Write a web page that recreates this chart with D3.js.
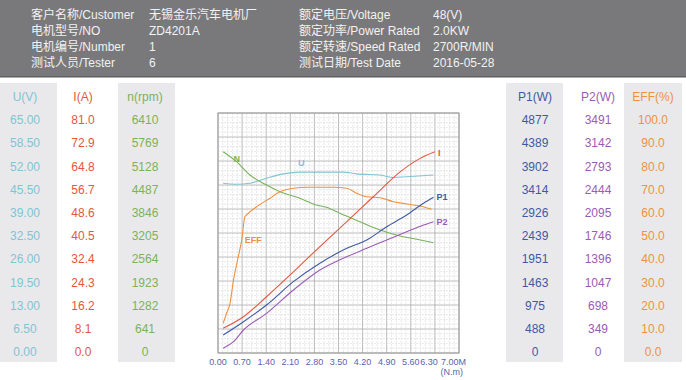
<!DOCTYPE html>
<html>
<head>
<meta charset="utf-8">
<script src="https://cdn.jsdelivr.net/npm/d3@7"></script>
<style>
  body { margin: 0; background: #fff; }
  svg { display: block; font-family: "Liberation Sans", "Noto Sans CJK SC", sans-serif; }
</style>
</head>
<body>
<svg id="chart" width="686" height="380"></svg>
<script>
// header info
var infoLeft = [
  ['客户名称/Customer', '无锡金乐汽车电机厂'],
  ['电机型号/NO', 'ZD4201A'],
  ['电机编号/Number', '1'],
  ['测试人员/Tester', '6']
];
var infoRight = [
  ['额定电压/Voltage', '48(V)'],
  ['额定功率/Power Rated', '2.0KW'],
  ['额定转速/Speed Rated', '2700R/MIN'],
  ['测试日期/Test Date', '2016-05-28']
];

// scale tables
var uTicks = ['0.00', '6.50', '13.00', '19.50', '26.00', '32.50', '39.00', '45.50', '52.00', '58.50', '65.00'];
var iTicks = ['0.0', '8.1', '16.2', '24.3', '32.4', '40.5', '48.6', '56.7', '64.8', '72.9', '81.0'];
var nTicks = ['0', '641', '1282', '1923', '2564', '3205', '3846', '4487', '5128', '5769', '6410'];
var p1Ticks = ['0', '488', '975', '1463', '1951', '2439', '2926', '3414', '3902', '4389', '4877'];
var p2Ticks = ['0', '349', '698', '1047', '1396', '1746', '2095', '2444', '2793', '3142', '3491'];
var effTicks = ['0.0', '10.0', '20.0', '30.0', '40.0', '50.0', '60.0', '70.0', '80.0', '90.0', '100.0'];
var torqueTicks = ['0.00', '0.70', '1.40', '2.10', '2.80', '3.50', '4.20', '4.90', '5.60', '6.30', '7.00M'];

// curves: [torque N.m, value]
var curveI = [[0.15, 8.3], [0.74, 12.3], [1.41, 19.3], [2.19, 28.0], [2.96, 36.8], [3.74, 45.5], [4.51, 54.2], [5.29, 62.9], [5.87, 67.6], [6.30, 69.9]];
var curveP1 = [[0.15, 357], [0.74, 637], [1.41, 988], [2.19, 1478], [2.96, 1865], [3.74, 2180], [4.32, 2354], [4.90, 2634], [5.48, 2880], [5.97, 3126], [6.26, 3252]];
var curveP2 = [[0.15, 56], [0.45, 155], [0.74, 331], [1.41, 582], [2.19, 933], [2.96, 1234], [3.74, 1434], [4.32, 1560], [4.90, 1685], [5.48, 1810], [5.97, 1911], [6.26, 1961]];
var curveEff = [[0.15, 12.4], [0.25, 16.7], [0.35, 21.0], [0.45, 31.0], [0.59, 41.1], [0.69, 48.3], [0.78, 58.3], [0.83, 59.1], [1.12, 62.6], [1.51, 66.3], [1.80, 69.1], [2.19, 70.6], [2.58, 71.0], [3.35, 71.0], [3.74, 70.6], [4.03, 68.4], [4.32, 66.9], [4.71, 66.5], [5.09, 64.8], [5.48, 63.8], [5.87, 62.9], [6.21, 61.5]];
var curveN = [[0.15, 5534], [0.54, 5258], [0.93, 4890], [1.41, 4614], [1.80, 4429], [2.38, 4247], [2.86, 4061], [3.15, 3998], [3.54, 3832], [4.12, 3600], [4.71, 3371], [5.29, 3205], [5.77, 3114], [6.26, 3020]];
var curveU = [[0.15, 47.3], [0.54, 47.0], [0.93, 47.3], [1.41, 48.7], [1.89, 49.9], [2.38, 50.4], [3.64, 50.4], [4.03, 49.9], [4.71, 49.6], [5.09, 48.9], [5.48, 49.1], [6.26, 49.6]];

var colors = {
  u: '#80c4d6', i: '#e4573d', n: '#79b35a',
  p1: '#3f59a6', p2: '#9a5cb4', eff: '#ef9140', axis: '#5b63ad'
};

var svg = d3.select('#chart');

// header band
svg.append('rect').attr('x', 0).attr('y', 0).attr('width', 686).attr('height', 77).attr('fill', '#79797b');
svg.append('rect').attr('x', 0).attr('y', 76).attr('width', 686).attr('height', 1.5).attr('fill', '#606062');

var rowY = d3.scalePoint().domain(d3.range(4)).range([15, 63]);
function infoBlock(rows, x1, x2) {
  var g = svg.append('g').attr('fill', '#f2f2f2').style('font-size', '12px');
  rows.forEach(function (r, k) {
    g.append('text').attr('x', x1).attr('y', rowY(k)).attr('dy', '0.35em').text(r[0]);
    g.append('text').attr('x', x2).attr('y', rowY(k)).attr('dy', '0.35em').text(r[1]);
  });
}
infoBlock(infoLeft, 31, 149);
infoBlock(infoRight, 299, 433);

// shared vertical scale for tables and curves
var yNorm = d3.scaleLinear().domain([0, 1]).range([352, 120]);

var columns = [
  { title: 'U(V)', ticks: uTicks, color: colors.u, x: 25, shade: [0, 57] },
  { title: 'I(A)', ticks: iTicks, color: colors.i, x: 83 },
  { title: 'n(rpm)', ticks: nTicks, color: colors.n, x: 145, shade: [118, 175] },
  { title: 'P1(W)', ticks: p1Ticks, color: colors.p1, x: 535, shade: [506, 563] },
  { title: 'P2(W)', ticks: p2Ticks, color: colors.p2, x: 598 },
  { title: 'EFF(%)', ticks: effTicks, color: colors.eff, x: 653, shade: [624, 682] }
];

columns.forEach(function (c) {
  var g = svg.append('g').style('font-size', '12px').attr('fill', c.color).attr('text-anchor', 'middle');
  if (c.shade) {
    g.append('rect').attr('x', c.shade[0]).attr('y', 83)
      .attr('width', c.shade[1] - c.shade[0]).attr('height', 279).attr('fill', '#e9e9eb');
  }
  g.append('text').attr('x', c.x).attr('y', 97).attr('dy', '0.35em').text(c.title);
  g.selectAll('text.v').data(c.ticks).enter().append('text')
    .attr('class', 'v')
    .attr('x', c.x)
    .attr('y', function (d, k) { return yNorm(k / (c.ticks.length - 1)); })
    .attr('dy', '0.35em')
    .text(function (d) { return d; });
});

// plot area
var plot = { left: 218, right: 459, top: 113, bottom: 353 };
var x = d3.scaleLinear().domain([0, 7]).range([plot.left, plot.right]);
var gy = d3.scaleLinear().domain([0, 50]).range([plot.bottom, plot.top]);

var grid = svg.append('g');
grid.append('rect').attr('x', plot.left).attr('y', plot.top)
  .attr('width', plot.right - plot.left).attr('height', plot.bottom - plot.top).attr('fill', '#fff');
d3.range(0, 51).forEach(function (k) {
  var major = k % 5 === 0;
  var gx = x(k * 0.14);
  grid.append('line').attr('x1', gx).attr('x2', gx).attr('y1', plot.top).attr('y2', plot.bottom)
    .attr('stroke', major ? '#ababab' : '#d9d9d9').attr('stroke-width', major ? 0.8 : 0.6)
    .attr('stroke-dasharray', major ? null : '2,1');
  grid.append('line').attr('y1', gy(k)).attr('y2', gy(k)).attr('x1', plot.left).attr('x2', plot.right)
    .attr('stroke', major ? '#ababab' : '#d9d9d9').attr('stroke-width', major ? 0.8 : 0.6)
    .attr('stroke-dasharray', major ? null : '2,1');
});
grid.append('rect').attr('x', plot.left).attr('y', plot.top)
  .attr('width', plot.right - plot.left).attr('height', plot.bottom - plot.top)
  .attr('fill', 'none').attr('stroke', '#9a9a9a').attr('stroke-width', 1);

// x axis labels (last two nudged apart so they do not collide)
var last = torqueTicks.length - 1;
var xt = svg.append('g').attr('fill', colors.axis).style('font-size', '9px').attr('text-anchor', 'middle');
xt.selectAll('text').data(torqueTicks).enter().append('text')
  .attr('x', function (d, k) { return k === last ? x(7) + 7 : x(k * 0.7) - (k === last - 1 ? 6 : 0); })
  .attr('text-anchor', function (d, k) { return k === last ? 'end' : 'middle'; })
  .attr('y', 362).attr('dy', '0.35em')
  .text(function (d) { return d; });
xt.append('text').attr('x', x(7) + 4).attr('text-anchor', 'end').attr('y', 372).attr('dy', '0.35em').text('(N.m)');

// curves
var series = [
  { data: curveU, max: 65, color: colors.u, label: 'U', at: 5, dx: -2, dy: -9 },
  { data: curveN, max: 6410, color: colors.n, label: 'N', at: 1, dx: -3, dy: -3 },
  { data: curveEff, max: 100, color: colors.eff, label: 'EFF', at: 5, dx: 3, dy: 0 },
  { data: curveP2, max: 3491, color: colors.p2, label: 'P2', at: 11, dx: 3, dy: 0 },
  { data: curveP1, max: 4877, color: colors.p1, label: 'P1', at: 10, dx: 3, dy: 0 },
  { data: curveI, max: 81, color: colors.i, label: 'I', at: 9, dx: 3, dy: 1 }
];

series.forEach(function (s) {
  var ys = d3.scaleLinear().domain([0, s.max]).range([yNorm(0), yNorm(1)]);
  var line = d3.line()
    .x(function (d) { return x(d[0]); })
    .y(function (d) { return ys(d[1]); })
    .curve(d3.curveMonotoneX);
  svg.append('path').datum(s.data).attr('d', line)
    .attr('fill', 'none').attr('stroke', s.color).attr('stroke-width', 1.1);
  var p = s.data[s.at];
  svg.append('text').attr('x', x(p[0]) + s.dx).attr('y', ys(p[1]) + s.dy).attr('dy', '0.35em')
    .attr('fill', s.color).style('font-size', '9px').style('font-weight', 'bold')
    .text(s.label);
});
</script>
</body>
</html>
